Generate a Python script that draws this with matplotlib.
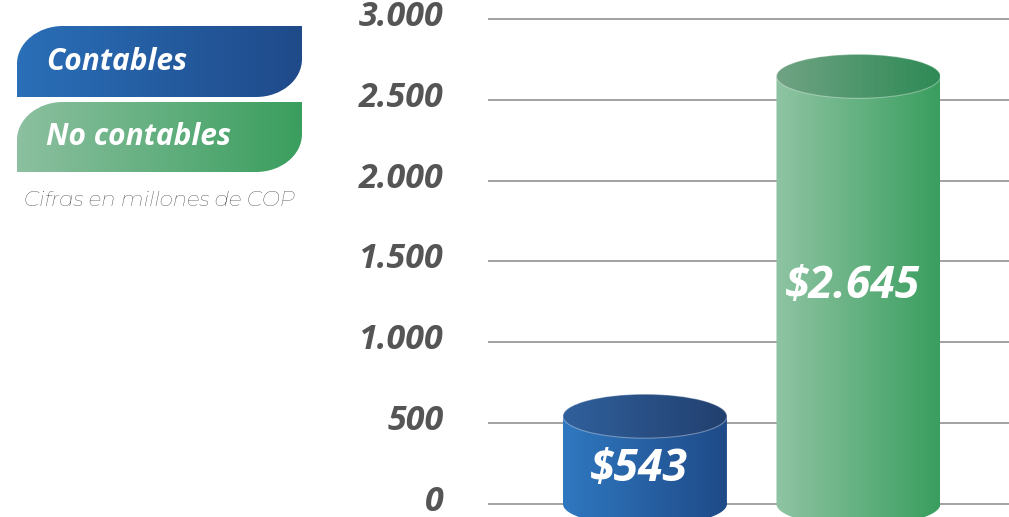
import numpy as np
import matplotlib.pyplot as plt
import matplotlib.transforms as mtransforms
from matplotlib.patches import Ellipse, PathPatch
from matplotlib.path import Path
from matplotlib.colors import to_rgb

categories = ['Contables', 'No contables']
values = [543, 2645]
value_labels = ['$543', '$2.645']
yticks = [0, 500, 1000, 1500, 2000, 2500, 3000]
ytick_labels = ['0', '500', '1.000', '1.500', '2.000', '2.500', '3.000']
note = 'Cifras en millones de COP'

side_colors = [('#2f78c0', '#1f4a88'), ('#8fc4a3', '#3a9e5f')]
top_colors = [('#30609c', '#22406f'), ('#70a384', '#2e8a55')]
legend_colors = [('#2a6fb8', '#1f4a8a'), ('#8cc0a0', '#3a9e5e')]

BOLD = ['Open Sans', 'DejaVu Sans']
LIGHT = ['Montserrat', 'Open Sans', 'DejaVu Sans']


def gradient(c0, c1, n=256):
    a, b = np.array(to_rgb(c0)), np.array(to_rgb(c1))
    t = np.linspace(0, 1, n)[:, None]
    return (a + (b - a) * t)[None, :, :]


def leaf(x0, y0, x1, y1, rx, ry):
    # box with rounded top-left and bottom-right corners (y grows downward)
    k = 0.5523
    verts = [(x0, y1), (x0, y0 + ry),
             (x0, y0 + ry - k * ry), (x0 + rx - k * rx, y0), (x0 + rx, y0),
             (x1, y0), (x1, y1 - ry),
             (x1, y1 - ry + k * ry), (x1 - rx + k * rx, y1), (x1 - rx, y1),
             (x0, y1), (x0, y1)]
    codes = [Path.MOVETO, Path.LINETO,
             Path.CURVE4, Path.CURVE4, Path.CURVE4,
             Path.LINETO, Path.LINETO,
             Path.CURVE4, Path.CURVE4, Path.CURVE4,
             Path.LINETO, Path.CLOSEPOLY]
    return Path(verts, codes)


fig = plt.figure(figsize=(10.09, 5.17), dpi=100)

# main chart
ax = fig.add_axes([488 / 1009, 0, 1 - 488 / 1009, 1])
ax.patch.set_alpha(0)
for s in ax.spines.values():
    s.set_visible(False)
for y in yticks:
    ax.axhline(y, color='#9a9a9a', lw=1.3, zorder=0)

w = 0.768
ry = 136
for i, v in enumerate(values):
    x0 = i - w / 2
    t = np.linspace(np.pi, 2 * np.pi, 60)
    pts = [(x0, v), (x0, 0)] + list(zip(i + w / 2 * np.cos(t), ry * np.sin(t))) + [(x0 + w, v), (x0, v)]
    body = PathPatch(Path(pts, closed=True), facecolor='none', edgecolor='none')
    ax.add_patch(body)
    im = ax.imshow(gradient(*side_colors[i]), extent=[x0, x0 + w, -ry, v],
                   aspect='auto', zorder=2, interpolation='bilinear')
    im.set_clip_path(body)

    top = Ellipse((i, v), w, 2 * ry, facecolor='none', edgecolor='none')
    ax.add_patch(top)
    im2 = ax.imshow(gradient(*top_colors[i]), extent=[x0, x0 + w, v - ry, v + ry],
                    aspect='auto', zorder=3, interpolation='bilinear')
    im2.set_clip_path(top)
    ax.add_patch(Ellipse((i, v), w, 2 * ry, facecolor='none',
                         edgecolor=(1, 1, 1, 0.35), lw=0.8, zorder=4))

    ax.text(i - 0.03, 0.54 * v - 82, value_labels[i], color='white', fontsize=32,
            fontweight='bold', fontstyle='italic', family=BOLD,
            ha='center', va='center', zorder=5)

ax.set_xlim(-0.735, 1.705)
ax.set_ylim(-80.4, 3117)
ax.set_xticks([])
ax.set_yticks(yticks, ytick_labels)
ax.tick_params(axis='y', length=0, pad=32, labelsize=24.5, labelcolor='#555555')
shift = mtransforms.ScaledTranslation(0, 6 / 100, fig.dpi_scale_trans)
for lbl in ax.get_yticklabels():
    lbl.set_family(BOLD)
    lbl.set_fontweight('bold')
    lbl.set_fontstyle('italic')
    lbl.set_transform(lbl.get_transform() + shift)

# legend
lax = fig.add_axes([0, 0, 1, 1])
lax.set_xlim(0, 1009)
lax.set_ylim(517, 0)
lax.axis('off')
rows = [(26, 97), (102, 172)]
for (y0, y1), cols, name in zip(rows, legend_colors, categories):
    p = PathPatch(leaf(17, y0, 302, y1, 46, 38), facecolor='none', edgecolor='none')
    lax.add_patch(p)
    im = lax.imshow(gradient(*cols), extent=[17, 302, y1, y0], aspect='auto',
                    interpolation='bilinear')
    im.set_clip_path(p)
    lax.text(46, (y0 + y1) / 2, name, color='white', fontsize=21.5,
             fontweight='bold', fontstyle='italic', family=BOLD,
             ha='left', va='center')
lax.text(24, 201, note, color='#3c3c3c', fontsize=15.3, fontstyle='italic',
         fontweight='normal', family=LIGHT, ha='left', va='center')
lax.set_xlim(0, 1009)
lax.set_ylim(517, 0)

fig.savefig('out.png', dpi=100)
